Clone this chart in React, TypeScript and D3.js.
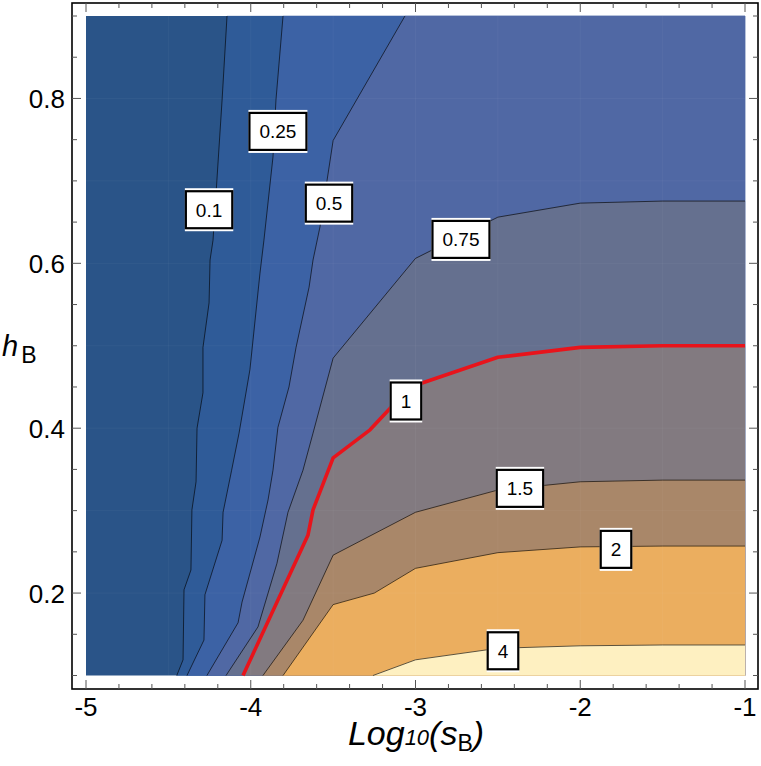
import React from "react";
import * as d3 from "d3";

// ---- data ----
const levels = [0.1, 0.25, 0.5, 0.75, 1, 1.5, 2, 4];
const bandColors = ["#2A5488", "#2F5B98", "#3C62A5", "#5068A4", "#65708F", "#827A80", "#A98769", "#EBAE5F", "#FEF0C1"];

const c01: [number, number][] = [[-4.144, 0.9], [-4.174, 0.798], [-4.229, 0.628], [-4.247, 0.604], [-4.253, 0.552], [-4.29, 0.498], [-4.29, 0.443], [-4.326, 0.4], [-4.332, 0.335], [-4.357, 0.301], [-4.363, 0.228], [-4.405, 0.204], [-4.411, 0.119], [-4.449, 0.1]];
const c025: [number, number][] = [[-3.804, 0.9], [-3.847, 0.798], [-3.865, 0.729], [-3.92, 0.628], [-3.944, 0.588], [-4.005, 0.471], [-4.071, 0.394], [-4.116, 0.349], [-4.168, 0.298], [-4.174, 0.264], [-4.278, 0.198], [-4.284, 0.143], [-4.387, 0.1]];
const c05: [number, number][] = [[-3.064, 0.9], [-3.5, 0.749], [-3.58, 0.644], [-3.622, 0.604], [-3.646, 0.571], [-3.725, 0.498], [-3.768, 0.45], [-3.835, 0.401], [-3.865, 0.349], [-3.895, 0.313], [-3.944, 0.268], [-4.053, 0.189], [-4.077, 0.164], [-4.266, 0.1]];
const c075: [number, number][] = [[-1, 0.6755], [-1.5, 0.6755], [-2, 0.673], [-2.5, 0.656], [-3, 0.606], [-3.5, 0.485], [-3.622, 0.394], [-3.683, 0.349], [-3.774, 0.298], [-3.841, 0.236], [-3.956, 0.159], [-4.15, 0.1]];
const c1: [number, number][] = [[-1, 0.5], [-1.5, 0.5], [-2, 0.498], [-2.5, 0.486], [-3, 0.452], [-3.155, 0.424], [-3.276, 0.398], [-3.5, 0.364], [-3.622, 0.301], [-3.653, 0.27], [-4.047, 0.1]];
const c15: [number, number][] = [[-1, 0.337], [-1.5, 0.337], [-2, 0.335], [-2.5, 0.325], [-3, 0.298], [-3.5, 0.246], [-3.683, 0.167], [-3.926, 0.1]];
const c2: [number, number][] = [[-1, 0.257], [-1.5, 0.257], [-2, 0.256], [-2.5, 0.249], [-3, 0.23], [-3.25, 0.2], [-3.5, 0.186], [-3.804, 0.1]];
const c4: [number, number][] = [[-1, 0.137], [-1.5, 0.137], [-2, 0.136], [-2.5, 0.133], [-3, 0.119], [-3.258, 0.1]];
const contours = [c01, c025, c05, c075, c1, c15, c2, c4];

const labelText = ["0.1", "0.25", "0.5", "0.75", "1", "1.5", "2", "4"];
const labelX = [-4.253, -3.835, -3.525, -2.724, -3.058, -2.366, -1.783, -2.469];
const labelY = [0.665, 0.76, 0.673, 0.629, 0.433, 0.327, 0.253, 0.13];

const xTicks = [-5, -4, -3, -2, -1];
const yTicks = [0.2, 0.4, 0.6, 0.8];
const xDomain = [-5, -1];
const yDomain = [0.1, 0.9];

// ---- layout ----
const W = 761, H = 766;
const frame = { l: 72, r: 758, t: 3, b: 689 };
const FONT = "'Liberation Sans', Arial, sans-serif";

export default function App() {
  const x = d3.scaleLinear().domain(xDomain).range([86, 745]);
  const y = d3.scaleLinear().domain(yDomain).range([675.5, 16]);
  const line = d3.line<[number, number]>().x(d => x(d[0])).y(d => y(d[1]));

  const regionPath = (c: [number, number][]) => {
    const pts = c.slice();
    pts.push([xDomain[1], yDomain[0]]);
    if (c[0][1] >= yDomain[1]) pts.push([xDomain[1], yDomain[1]]);
    return line(pts) + "Z";
  };

  const xMinor = d3.range(-5, -0.99, 0.2).map(v => +v.toFixed(2));
  const yMinor = d3.range(0.1, 0.901, 0.05).map(v => +v.toFixed(2));
  const gridX = d3.range(-4.5, -1, 0.5);
  const gridY = d3.range(0.2, 0.9, 0.1);

  const LF = 19;
  const textW = (s: string) => s.split("").reduce((a, ch) => a + (ch === "." ? 0.278 : 0.556), 0) * LF;

  return (
    <svg width={W} height={H} style={{ position: "absolute", left: 0, top: 0, background: "#fff" }} fontFamily={FONT}>
      {/* filled bands */}
      <rect x={x(xDomain[0])} y={y(yDomain[1])} width={x(xDomain[1]) - x(xDomain[0])} height={y(yDomain[0]) - y(yDomain[1])} fill={bandColors[0]} />
      {contours.map((c, i) => (
        <path key={"r" + i} d={regionPath(c)} fill={bandColors[i + 1]} stroke={bandColors[i + 1]} strokeWidth={0.3} />
      ))}
      {/* faint mesh seams */}
      <g stroke="#ffffff" strokeOpacity={0.04} strokeWidth={1}>
        {gridX.map(v => <line key={"gx" + v} x1={x(v)} x2={x(v)} y1={y(yDomain[0])} y2={y(yDomain[1])} />)}
        {gridY.map(v => <line key={"gy" + v} x1={x(xDomain[0])} x2={x(xDomain[1])} y1={y(v)} y2={y(v)} />)}
      </g>
      {/* contour lines */}
      {contours.map((c, i) =>
        levels[i] === 1 ? (
          <path key={"c" + i} d={line(c) || ""} fill="none" stroke="#E8141B" strokeWidth={3.6} strokeLinejoin="round" />
        ) : (
          <path key={"c" + i} d={line(c) || ""} fill="none" stroke="#000" strokeOpacity={0.7} strokeWidth={0.9} />
        )
      )}
      {/* contour labels */}
      {labelText.map((t, i) => {
        const cx = x(labelX[i]), cy = y(labelY[i]);
        const w = textW(t) + 22;
        return (
          <g key={"l" + i}>
            <rect x={cx - w / 2} y={cy - 21.5} width={w} height={43} fill="#fff" />
            <rect x={cx - w / 2 + 1} y={cy - 18.5} width={w - 2} height={37} fill="#fff" stroke="#000" strokeWidth={2.2} />
            <text x={cx} y={cy + 7} textAnchor="middle" fontSize={LF} fill="#000">{t}</text>
          </g>
        );
      })}
      {/* frame */}
      <rect x={frame.l} y={frame.t} width={frame.r - frame.l} height={frame.b - frame.t} fill="none" stroke="#000" strokeWidth={1.6} />
      {/* ticks */}
      <g stroke="#555" strokeWidth={1}>
        {xMinor.map(v => {
          const major = xTicks.some(t => Math.abs(t - v) < 1e-6);
          const L = major ? 9 : 5;
          return (
            <g key={"xt" + v}>
              <line x1={x(v)} x2={x(v)} y1={frame.b} y2={frame.b - L} />
              <line x1={x(v)} x2={x(v)} y1={frame.t} y2={frame.t + L} />
            </g>
          );
        })}
        {yMinor.map(v => {
          const major = yTicks.some(t => Math.abs(t - v) < 1e-6);
          const L = major ? 9 : 5;
          return (
            <g key={"yt" + v}>
              <line x1={frame.l} x2={frame.l + L} y1={y(v)} y2={y(v)} />
              <line x1={frame.r} x2={frame.r - L} y1={y(v)} y2={y(v)} />
            </g>
          );
        })}
      </g>
      {/* tick labels */}
      {xTicks.map(v => (
        <text key={"xl" + v} x={x(v)} y={716} textAnchor="middle" fontSize={26} fill="#000">{v}</text>
      ))}
      {yTicks.map(v => (
        <text key={"yl" + v} x={65} y={y(v) + 9.5} textAnchor="end" fontSize={26} fill="#000">{v.toFixed(1)}</text>
      ))}
      {/* axis titles */}
      <text x={416} y={745} textAnchor="middle" fill="#000">
        <tspan fontSize={34} fontStyle="italic">Log</tspan>
        <tspan fontSize={22} fontStyle="italic">10</tspan>
        <tspan fontSize={34} fontStyle="italic">(s</tspan>
        <tspan fontSize={23} dy={6}>B</tspan>
        <tspan fontSize={34} fontStyle="italic" dy={-6}>)</tspan>
      </text>
      <text x={2} y={356} fill="#000">
        <tspan fontSize={29} fontStyle="italic">h</tspan>
        <tspan fontSize={23} dx={3} dy={7}>B</tspan>
      </text>
    </svg>
  );
}
